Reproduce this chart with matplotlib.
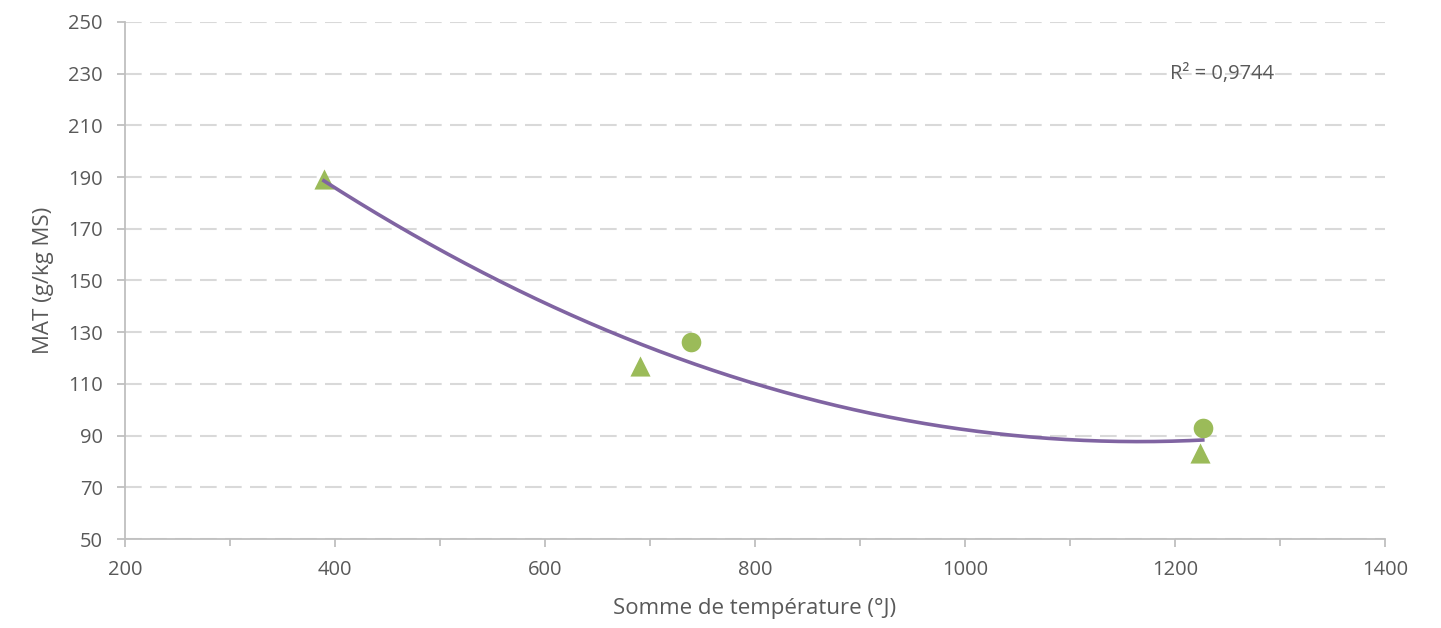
import numpy as np
import matplotlib.pyplot as plt
from matplotlib.ticker import MultipleLocator

plt.rcParams['font.family'] = ['Open Sans', 'DejaVu Sans']

# données
tri_x = [389.5, 690.5, 1224]
tri_y = [189.3, 117.0, 83.3]
rond_x = [739, 1226.5]
rond_y = [126.3, 92.9]

vert = '#9bbb59'
violet = '#8064a2'
gris = '#595959'

fig = plt.figure(figsize=(14.41, 6.28), dpi=100)
ax = fig.add_axes([0.0867, 0.1417, 0.8744, 0.8233])

# tendance polynomiale (ordre 2) sur tous les points
all_x = np.array(tri_x + rond_x)
all_y = np.array(tri_y + rond_y)
coef = np.polyfit(all_x, all_y, 2)
xx = np.linspace(all_x.min(), all_x.max(), 200)
ax.plot(xx, np.polyval(coef, xx), color=violet, lw=2.6, zorder=3)

ax.scatter(tri_x, tri_y, marker='^', s=210, color=vert, zorder=2, linewidths=0)
ax.scatter(rond_x, rond_y, marker='o', s=200, color=vert, zorder=2, linewidths=0)

ax.text(1195, 230, 'R² = 0,9744', fontsize=14.5, color=gris, va='center', ha='left')

ax.set_xlim(200, 1400)
ax.set_ylim(50, 250)
ax.xaxis.set_major_locator(MultipleLocator(200))
ax.xaxis.set_minor_locator(MultipleLocator(100))
ax.set_yticks(np.arange(50, 251, 20))
ax.yaxis.grid(True, color='#d9d9d9', ls=(0, (8, 4)), lw=1.5)
ax.set_axisbelow(True)

for s in ['top', 'right']:
    ax.spines[s].set_visible(False)
for s in ['left', 'bottom']:
    ax.spines[s].set_color('#bfbfbf')
    ax.spines[s].set_linewidth(1.3)
ax.tick_params(which='both', color='#bfbfbf', width=1.3, labelcolor=gris, labelsize=14.5)
ax.tick_params(which='major', length=6)
ax.tick_params(which='minor', length=5)
ax.tick_params(axis='x', pad=9)
ax.tick_params(axis='y', pad=10)

ax.set_xlabel('Somme de température (°J)', fontsize=16, color=gris, labelpad=13)
ax.set_ylabel('MAT (g/kg MS)', fontsize=16, color=gris, labelpad=10)

fig.savefig('out.png', dpi=100)
